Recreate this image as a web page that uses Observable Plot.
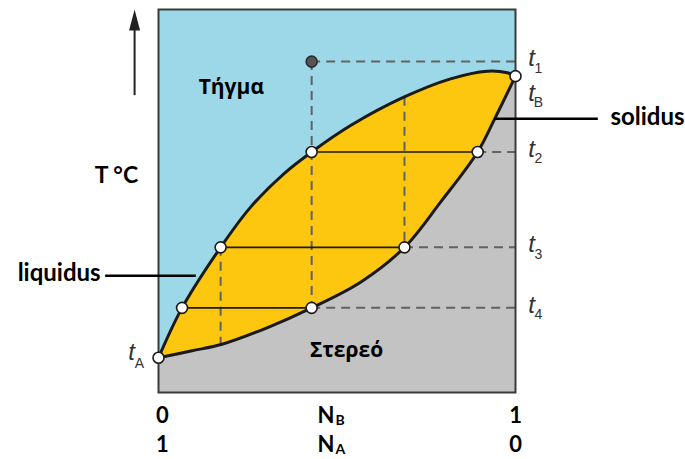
<!DOCTYPE html>
<html><head><meta charset="utf-8">
<script src="https://cdn.jsdelivr.net/npm/d3@7"></script>
<script src="https://cdn.jsdelivr.net/npm/@observablehq/plot@0.6"></script>
<style>body{margin:0;background:#fff;} svg{display:block}</style>
</head><body><div id="chart"></div>
<script>
// Liquidus curve (composition N_B, temperature in arbitrary units)
const liquidusX = [0, 0.066, 0.174, 0.258, 0.351, 0.429, 0.538, 0.687, 0.818, 0.921, 0.977, 1];
const liquidusT = [9.06, 22.1, 37.9, 48.4, 57.1, 62.8, 69.7, 77.1, 81.9, 83.9, 83.5, 82.6];
// Solidus curve
const solidusX = [0, 0.094, 0.178, 0.304, 0.429, 0.566, 0.689, 0.790, 0.894, 0.942, 1];
const solidusT = [9.06, 10.9, 12.6, 16.9, 22.1, 28.8, 37.9, 49.7, 62.8, 71.5, 82.6];
// Alloy composition and starting temperature t1
const alloyX = 0.429;
const levelNames = ["1", "2", "3", "4"];
const levelT = [86.4, 62.8, 37.9, 22.1];
const levelStartX = [0.429, 0.894, 0.689, 0.429];
// Tie lines t2, t3, t4
const tieT = [62.8, 37.9, 22.1];
const tieLiquidX = [0.429, 0.174, 0.066];
const tieSolidX = [0.894, 0.689, 0.429];
// Vertical dashed guides
const vertX = [0.429, 0.689, 0.174];
const vertTop = [86.4, 77.1, 37.9];
const vertBottom = [22.1, 37.9, 12.6];
// Pure components
const tA = 9.06, tB = 82.6;
// Bottom labels
const bottomRowT = [-6.0, -13.6];
const leftTicks = ["0", "1"];
const rightTicks = ["1", "0"];
const compSubs = ["B", "A"];

const liquidus = liquidusX.map((x, i) => ({x, T: liquidusT[i]}));
const solidus = solidusX.map((x, i) => ({x, T: solidusT[i]}));
const levels = levelT.map((T, i) => ({T, name: levelNames[i], x1: levelStartX[i]}));
const ties = tieT.map((T, i) => ({T, x1: tieLiquidX[i], x2: tieSolidX[i]}));
const verts = vertX.map((x, i) => ({x, y1: vertTop[i], y2: vertBottom[i]}));
const openPts = [{x: 0, T: tA}, {x: 1, T: tB}]
  .concat(ties.flatMap(d => [{x: d.x1, T: d.T}, {x: d.x2, T: d.T}]));
const bottom = bottomRowT.map((T, i) => ({T, l: leftTicks[i], r: rightTicks[i], s: compSubs[i]}));

const arrowHead = {draw(ctx) { ctx.moveTo(0, 0); ctx.lineTo(5.5, 21); ctx.lineTo(-5.5, 21); ctx.closePath(); }};
const dashed = {stroke: "#626262", strokeWidth: 2, strokeDasharray: "9,6"};
const bold = {fontFamily: "Lato, 'Open Sans', sans-serif", fontWeight: "bold", fill: "#000"};
const tFont = {fontFamily: "'Liberation Sans', sans-serif", fill: "#333"};
const curve = "catmull-rom";

const chart = Plot.plot({
  width: 685, height: 459,
  marginLeft: 158, marginRight: 170, marginTop: 9, marginBottom: 67,
  x: {domain: [0, 1], axis: null},
  y: {domain: [0, 100], axis: null},
  style: {background: "#fff", overflow: "visible"},
  marks: [
    Plot.frame({fill: "#9dd8e8", stroke: null}),
    Plot.areaY(liquidus, {x: "x", y: "T", curve, fill: "#fdc60f"}),
    Plot.areaY(solidus, {x: "x", y: "T", curve, fill: "#c3c3c3"}),
    Plot.ruleY(levels, {y: "T", x1: "x1", x2: 1, ...dashed}),
    Plot.ruleX(verts, {x: "x", y1: "y1", y2: "y2", ...dashed}),
    Plot.ruleY(ties, {y: "T", x1: "x1", x2: "x2", stroke: "#1a1a1a", strokeWidth: 1.6}),
    Plot.line(liquidus, {x: "x", y: "T", curve, stroke: "#1a1a1a", strokeWidth: 3}),
    Plot.line(solidus, {x: "x", y: "T", curve, stroke: "#1a1a1a", strokeWidth: 3}),
    Plot.frame({stroke: "#3a3a3a", strokeWidth: 2}),
    // label leader lines
    Plot.ruleY([30.5], {x1: -0.148, x2: 0.106, stroke: "#000", strokeWidth: 2.5}),
    Plot.ruleY([71.5], {x1: 0.942, x2: 1.232, stroke: "#000", strokeWidth: 2.5}),
    // points
    Plot.dot(openPts, {x: "x", y: "T", r: 5.5, fill: "#fff", stroke: "#1a1a1a", strokeWidth: 1.6}),
    Plot.dot([{x: alloyX, T: levelT[0]}], {x: "x", y: "T", r: 5.5, fill: "#555", stroke: "#2a2a2a", strokeWidth: 1.6}),
    // temperature arrow
    Plot.ruleX([-0.067], {y1: 77.5, y2: 95, stroke: "#222", strokeWidth: 2}),
    Plot.dot([{x: -0.067, T: 100}], {x: "x", y: "T", symbol: arrowHead, r: 3, fill: "#222", stroke: null}),
    // region labels
    Plot.text(["Τήγμα"], {x: 0.204, y: 79.6, text: d => d, fontSize: 21, ...bold, fontFamily: "'Open Sans', sans-serif"}),
    Plot.text(["Στερεό"], {x: 0.527, y: 11.0, text: d => d, fontSize: 21, ...bold, fontFamily: "'Open Sans', sans-serif"}),
    Plot.text(["T °C"], {x: -0.118, y: 56.7, text: d => d, fontSize: 23, ...bold}),
    Plot.text(["liquidus"], {x: -0.162, y: 30.5, text: d => d, fontSize: 24, textAnchor: "end", dy: -2, ...bold}),
    Plot.text(["solidus"], {x: 1.266, y: 71.5, text: d => d, fontSize: 24, textAnchor: "start", dy: -1, ...bold}),
    // level labels t1..t4, tB, tA
    Plot.text(levels, {x: 1, y: "T", text: () => "t", dx: 16, dy: -3, fontSize: 24, fontStyle: "italic", ...tFont}),
    Plot.text(levels, {x: 1, y: "T", text: "name", dx: 23, dy: 7, fontSize: 14, ...tFont}),
    Plot.text([tB], {x: 1, y: d => d, text: () => "t", dx: 16, dy: 17, fontSize: 24, fontStyle: "italic", ...tFont}),
    Plot.text([tB], {x: 1, y: d => d, text: () => "B", dx: 23, dy: 26, fontSize: 14, ...tFont}),
    Plot.text([tA], {x: 0, y: d => d, text: () => "t", dx: -27, dy: -5, fontSize: 24, fontStyle: "italic", ...tFont}),
    Plot.text([tA], {x: 0, y: d => d, text: () => "A", dx: -19, dy: 6, fontSize: 14, ...tFont}),
    // bottom composition labels
    Plot.text(bottom, {x: 0.011, y: "T", text: "l", fontSize: 22, ...bold}),
    Plot.text(bottom, {x: 1, y: "T", text: "r", fontSize: 22, ...bold}),
    Plot.text(bottom, {x: 0.49, y: "T", text: () => "N", textAnchor: "end", dx: 1, fontSize: 22, ...bold}),
    Plot.text(bottom, {x: 0.49, y: "T", text: "s", textAnchor: "start", dx: 2, dy: 5, fontSize: 14, ...bold})
  ]
});
document.getElementById("chart").append(chart);
</script></body></html>
